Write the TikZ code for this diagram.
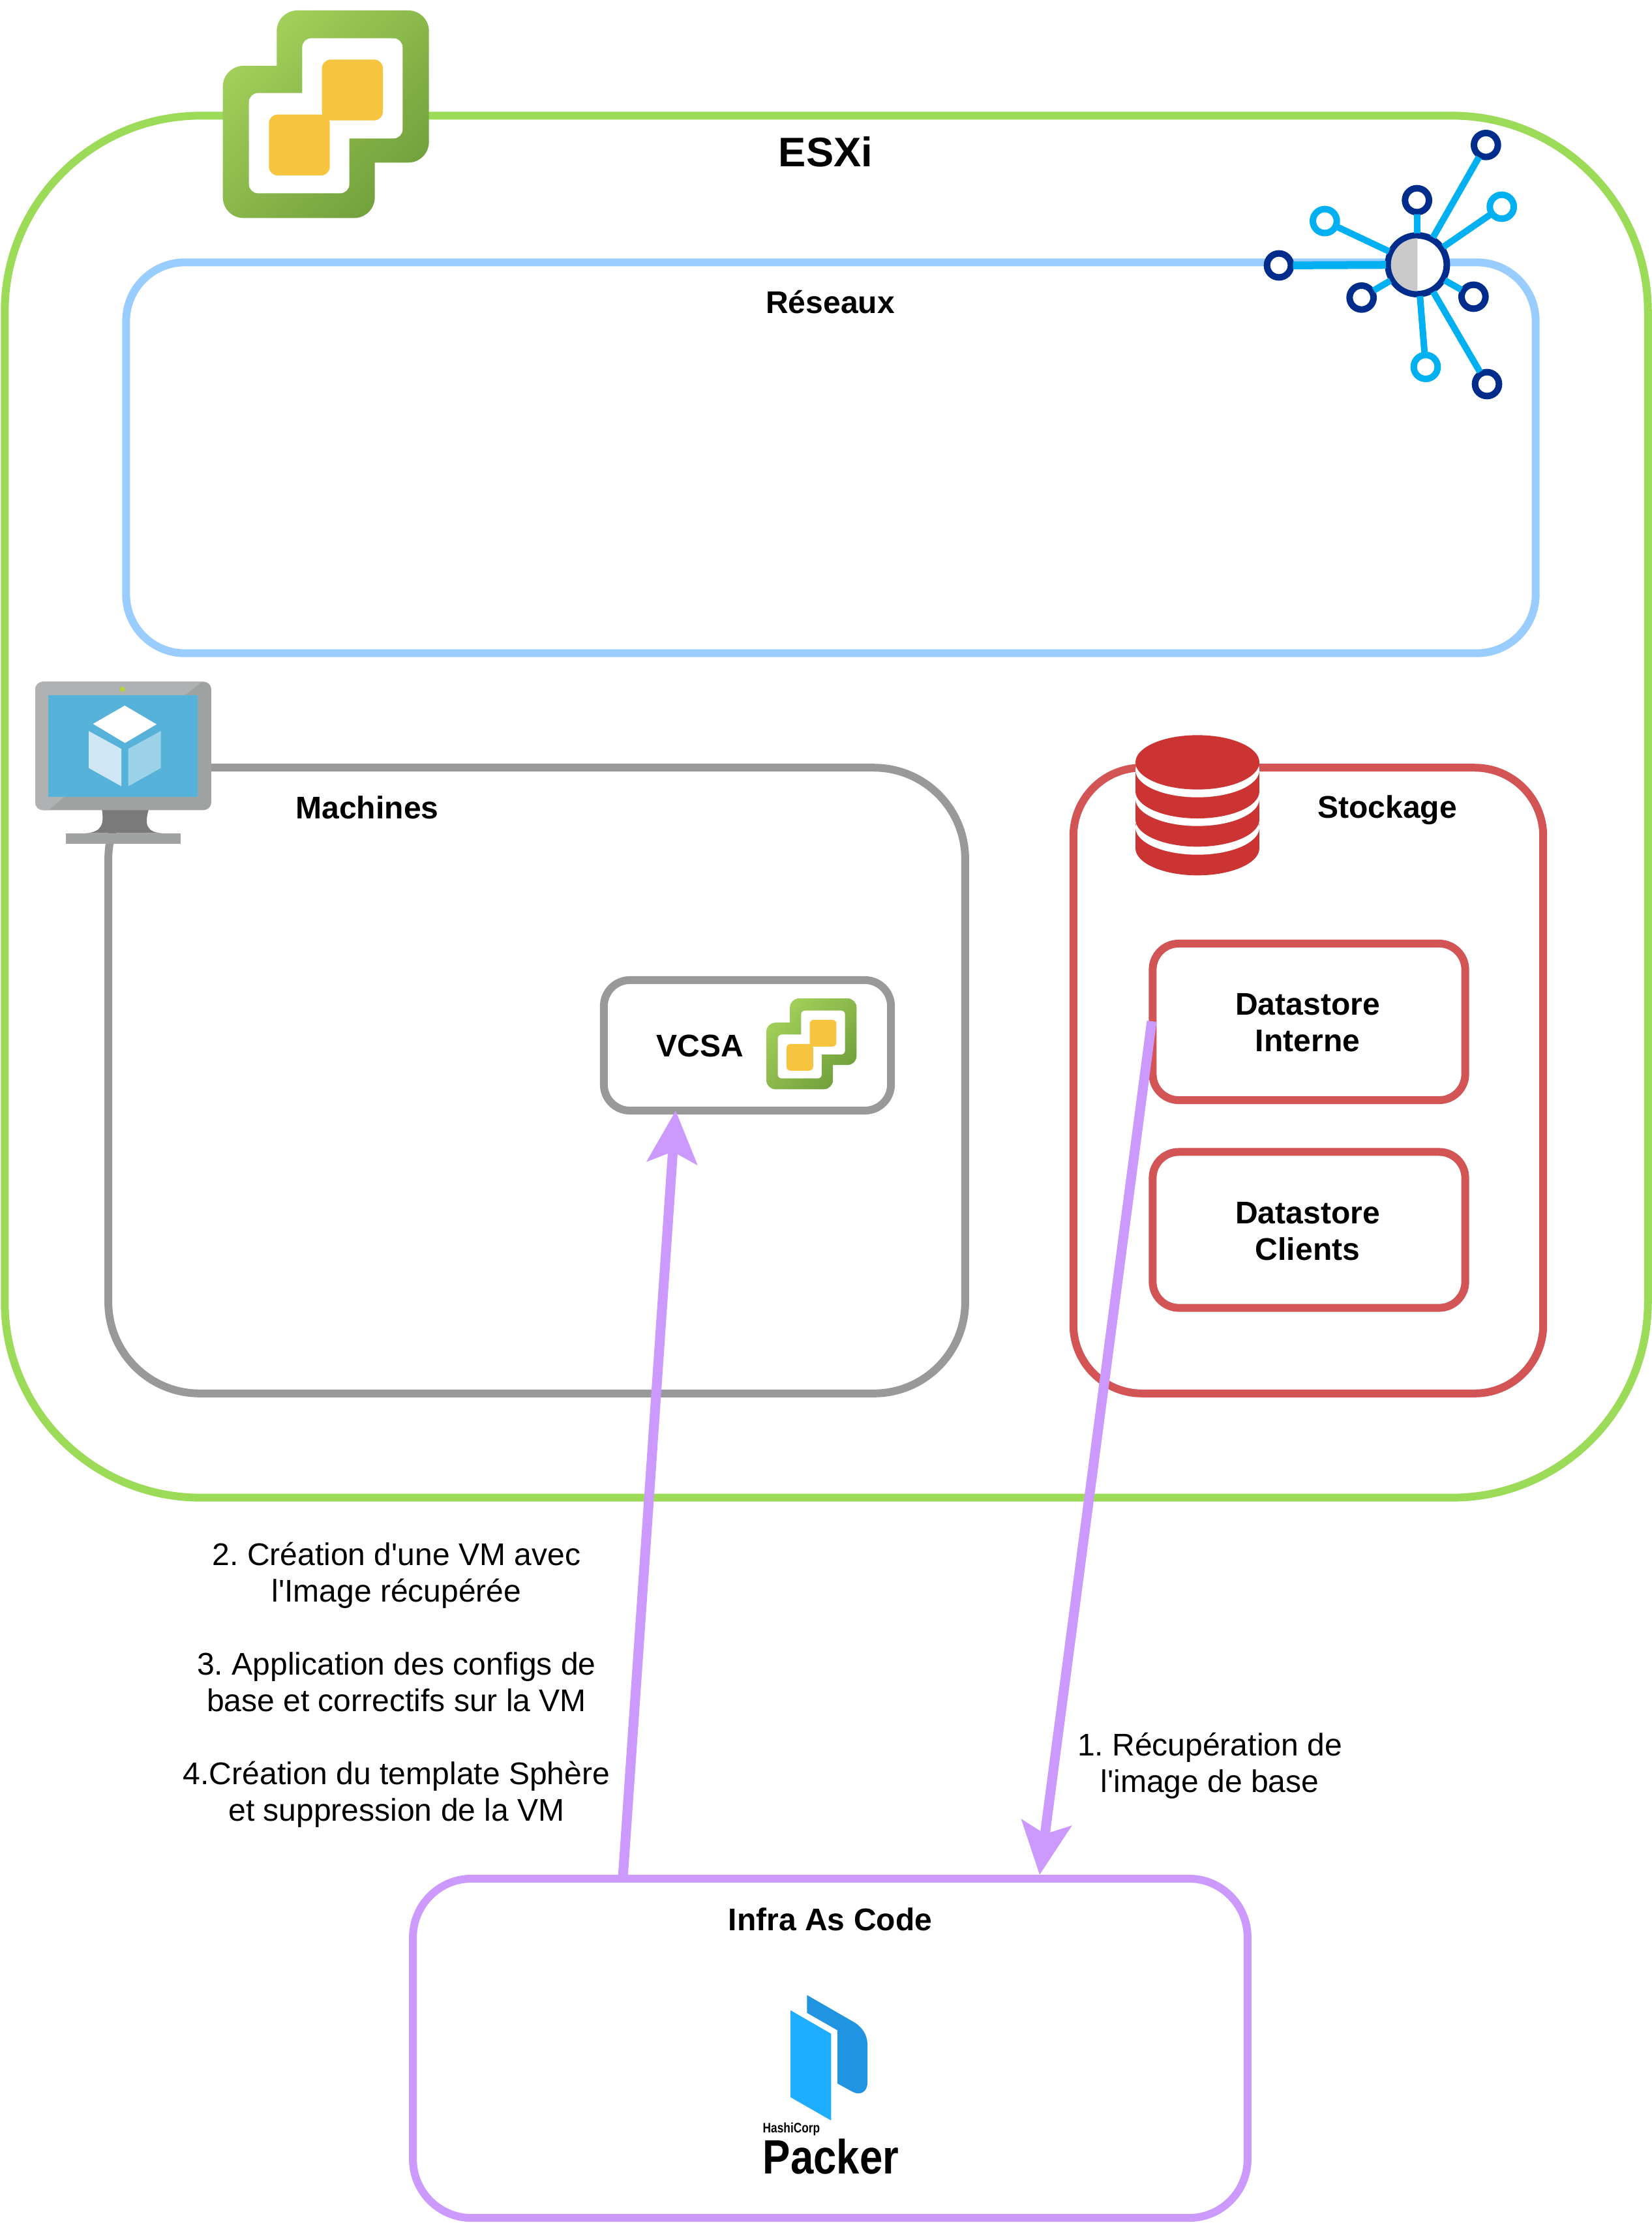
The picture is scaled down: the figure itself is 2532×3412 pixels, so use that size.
\documentclass[tikz,border=0pt]{standalone}
\usepackage{fontspec}
\setmainfont{Liberation Sans}
\newfontfamily\plainsans{Liberation Sans}
\usetikzlibrary{arrows.meta}
\definecolor{esxgreen}{HTML}{9BDB58}
\definecolor{netblue}{HTML}{99CCFF}
\definecolor{vmgray}{HTML}{999999}
\definecolor{storered}{HTML}{D25454}
\definecolor{iacpurple}{HTML}{CC99FF}
\definecolor{logolight}{HTML}{A2D05A}
\definecolor{logodark}{HTML}{72A03C}
\definecolor{logoyellow}{HTML}{F7C43F}
\definecolor{spoke}{HTML}{00B0F0}
\definecolor{navy}{HTML}{002D8B}
\definecolor{halfgray}{HTML}{C9C9C9}
\definecolor{dbred}{HTML}{CC3333}
\definecolor{monlight}{HTML}{B0B1B3}
\definecolor{mondark}{HTML}{A0A1A1}
\definecolor{monneck}{HTML}{7A7A7A}
\definecolor{monscreen}{HTML}{57B2DA}
\definecolor{monled}{HTML}{B8D432}
\definecolor{cubeleft}{HTML}{CFE6F4}
\definecolor{cuberight}{HTML}{9DD3E8}
\definecolor{packlight}{HTML}{1FADFF}
\definecolor{packdark}{HTML}{2094E0}
\newcommand\txtN{\plainsans\fontsize{13.66}{15.93}\selectfont\frenchspacing}
\newcommand\txtB{\plainsans\fontsize{13.66}{15.93}\selectfont\bfseries\frenchspacing}
\newcommand\txtT{\plainsans\fontsize{18}{20}\selectfont\bfseries}
\newcommand\vlogo[3]{%
  \pgfmathsetmacro\rA{#3*0.95}\pgfmathsetmacro\rB{#3*0.42}\pgfmathsetmacro\rC{#3*0.40}%
  \begin{scope}[shift={(#1,#2)},scale=#3]
    \shade[left color=logolight,right color=logodark,shading angle=45,rounded corners=\rA cm]
      (373,48) rectangle (1073,748) (125,303) rectangle (824,1003);
    \fill[white,rounded corners=\rB cm] (490,176) rectangle (952,637) (245,428) rectangle (707,889);
    \fill[logoyellow,rounded corners=\rC cm] (581,274) rectangle (861,554) (337,527) rectangle (617,807);
  \end{scope}}
\tikzset{
  x=0.01cm,y=-0.01cm,
  framebox/.style={draw,rectangle,line width=.12cm,fill=none,inner sep=0},
  title/.style={inner sep=0,font=\txtB,align=center},
  note/.style={inner sep=0,font=\txtN,align=center},
  ringdark/.style={circle,draw=navy,fill=white,line width=.1cm,minimum size=.367cm,inner sep=0},
  ringlight/.style={circle,draw=spoke,fill=white,line width=.1cm,minimum size=.367cm,inner sep=0},
  spokeline/.style={draw=spoke,line width=.1cm,shorten <=-.5pt,shorten >=-.5pt},
  flow/.style={draw=iacpurple,line width=.15cm,-{Stealth[length=.8cm,width=.76cm,inset=.17cm]}},
}
\begin{document}
\begin{tikzpicture}
\useasboundingbox (0,0) rectangle (2532,3412);
\fill[white] (0,0) rectangle (2532,3412);
% frames
\node[framebox,draw=esxgreen,rounded corners=3cm,minimum width=25.18cm,minimum height=21.18cm] (esxi) at (1267,1237) {};
\node[framebox,draw=netblue,rounded corners=.9cm,minimum width=21.6cm,minimum height=5.99cm] (reseaux) at (1274,702) {};
\node[framebox,draw=vmgray,rounded corners=1.4cm,minimum width=13.13cm,minimum height=9.59cm] (machines) at (823,1657) {};
\node[framebox,draw=storered,rounded corners=1.05cm,minimum width=7.2cm,minimum height=9.59cm] (stockage) at (2006,1657) {};
\node[framebox,draw=storered,rounded corners=.4cm,minimum width=4.79cm,minimum height=2.4cm] (dsi) at (2007,1567) {};
\node[framebox,draw=storered,rounded corners=.4cm,minimum width=4.79cm,minimum height=2.39cm] (dsc) at (2007,1886) {};
\node[framebox,draw=vmgray,rounded corners=.4cm,minimum width=4.4cm,minimum height=2cm] (vcsa) at (1146,1603) {};
\node[framebox,draw=iacpurple,rounded corners=.9cm,minimum width=12.79cm,minimum height=5.2cm] (infra) at (1273,3141) {};
% titles
\node[inner sep=0,font=\txtT] (tesxi) at (1266,233) {ESXi};
\node[title] (treseaux) at (1273,463) {Réseaux};
\node[title] (tmachines) at (563,1238) {Machines};
\node[title] (tstockage) at (2127,1242) {Stockage};
\node[title] (tdsi) at (2005,1568) {Datastore\\Interne};
\node[title] (tdsc) at (2005,1888) {Datastore\\Clients};
\node[title] (tvcsa) at (1073,1604) {VCSA};
\node[title] (tinfra) at (1273,2943) {Infra As Code};
% notes
\node[note] (nleft) at (608,2584) {2. Création d'une VM avec\\l'Image récupérée\\{}\\3. Application des configs de\\base et correctifs sur la VM\\{}\\4.Création du template Sphère\\et suppression de la VM};
\node[note] (nright) at (1855,2708) {1. Récupération de\\l'image de base};
% vSphere logos
\vlogo{300}{0}{0.33333}
\vlogo{1156.8}{1524}{0.1459}
% network icon
\begin{scope}[shift={(1901,170)},scale=0.33333]
  \node[circle,draw=navy,fill=white,line width=.1cm,minimum size=.9cm,inner sep=0] (hub) at (817,708) {};
  \begin{scope}
    \clip (680,570) rectangle (817,850);
    \fill[halfgray] (817,708) circle [radius=122];
  \end{scope}
  \node[ringdark] (r1) at (180,711) {};
  \node[ringdark] (r2) at (560,859) {};
  \node[ringdark] (r3) at (1075,855) {};
  \node[ringdark] (r4) at (1137,1257) {};
  \node[ringdark] (r5) at (815,411) {};
  \node[ringdark] (r6) at (1132,157) {};
  \node[ringlight] (r7) at (391,507) {};
  \node[ringlight] (r8) at (1205,441) {};
  \node[ringlight] (r9) at (855,1178) {};
  \draw[spokeline,line width=.12cm] (hub) -- (r1);
  \foreach \k in {r2,r3,r4,r5,r6,r7,r8,r9} \draw[spokeline] (hub) -- (\k);
\end{scope}
% monitor icon
\begin{scope}[shift={(30,1020)},scale=0.33333]
  \fill[mondark] (212,773) rectangle (740,823);
  \fill[monneck] (378,660) .. controls (390,730) and (380,770) .. (300,773) -- (660,773) .. controls (580,770) and (575,730) .. (595,660) -- cycle;
  \fill[mondark,rounded corners=.12cm] (72,76) rectangle (882,667);
  \begin{scope}
    \clip[rounded corners=.12cm] (72,76) rectangle (882,667);
    \fill[monlight] (840,76) -- (760,138) -- (133,138) -- (133,605) -- (205,605) -- (135,667) -- (60,667) -- (60,60) -- (840,60) -- cycle;
  \end{scope}
  \fill[monscreen] (133,138) rectangle (818,605);
  \fill[monled] (473,111) circle [radius=12];
  \fill[white] (484,186) -- (630,272) -- (485,358) -- (338,270) -- cycle;
  \fill[cubeleft] (318,303) -- (468,385) -- (468,557) -- (318,473) -- cycle;
  \fill[cuberight] (500,385) -- (650,303) -- (650,473) -- (500,557) -- cycle;
\end{scope}
% database icon
\begin{scope}[shift={(1700,1100)},scale=0.33333]
  \fill[dbred] (123,490) rectangle (693,602);
  \fill[dbred] (408,602) ellipse [x radius=285,y radius=125];
  \fill[white] (408,507) ellipse [x radius=285,y radius=125];
  \fill[dbred] (123,375) rectangle (693,470);
  \fill[dbred] (408,470) ellipse [x radius=285,y radius=125];
  \fill[white] (408,375) ellipse [x radius=285,y radius=125];
  \fill[dbred] (123,243) rectangle (693,340);
  \fill[dbred] (408,340) ellipse [x radius=285,y radius=125];
  \fill[white] (408,243) ellipse [x radius=285,y radius=125];
  \fill[dbred] (408,207) ellipse [x radius=285,y radius=125];
\end{scope}
% packer icon
\begin{scope}[shift={(1100,3020)},scale=0.33333]
  \fill[packdark] (412,118) -- (620,238) .. controls (665,262) and (690,300) .. (690,345) -- (690,520) .. controls (690,570) and (650,580) .. (620,562) -- (552,525) -- (552,280) -- (412,200) -- cycle;
  \fill[packlight] (336,188) -- (523,296) -- (523,695) -- (336,588) -- cycle;
  \node[anchor=west,inner sep=0] (hashi) at (207,735) {\fontsize{6}{6}\selectfont\bfseries\scalebox{.82}[1]{HashiCorp}};
  \node[anchor=west,inner sep=0] (packer) at (207,860) {\fontsize{21}{21}\selectfont\bfseries\scalebox{.86}[1]{Packer}};
\end{scope}
% connectors
\coordinate (upfrom) at (955,2880);
\coordinate (upto) at (1036,1703);
\coordinate (downfrom) at (1766,1566);
\coordinate (downto) at (1594,2875);
\draw[flow] (upfrom) -- (upto);
\draw[flow] (downfrom) -- (downto);
\end{tikzpicture}
\end{document}
